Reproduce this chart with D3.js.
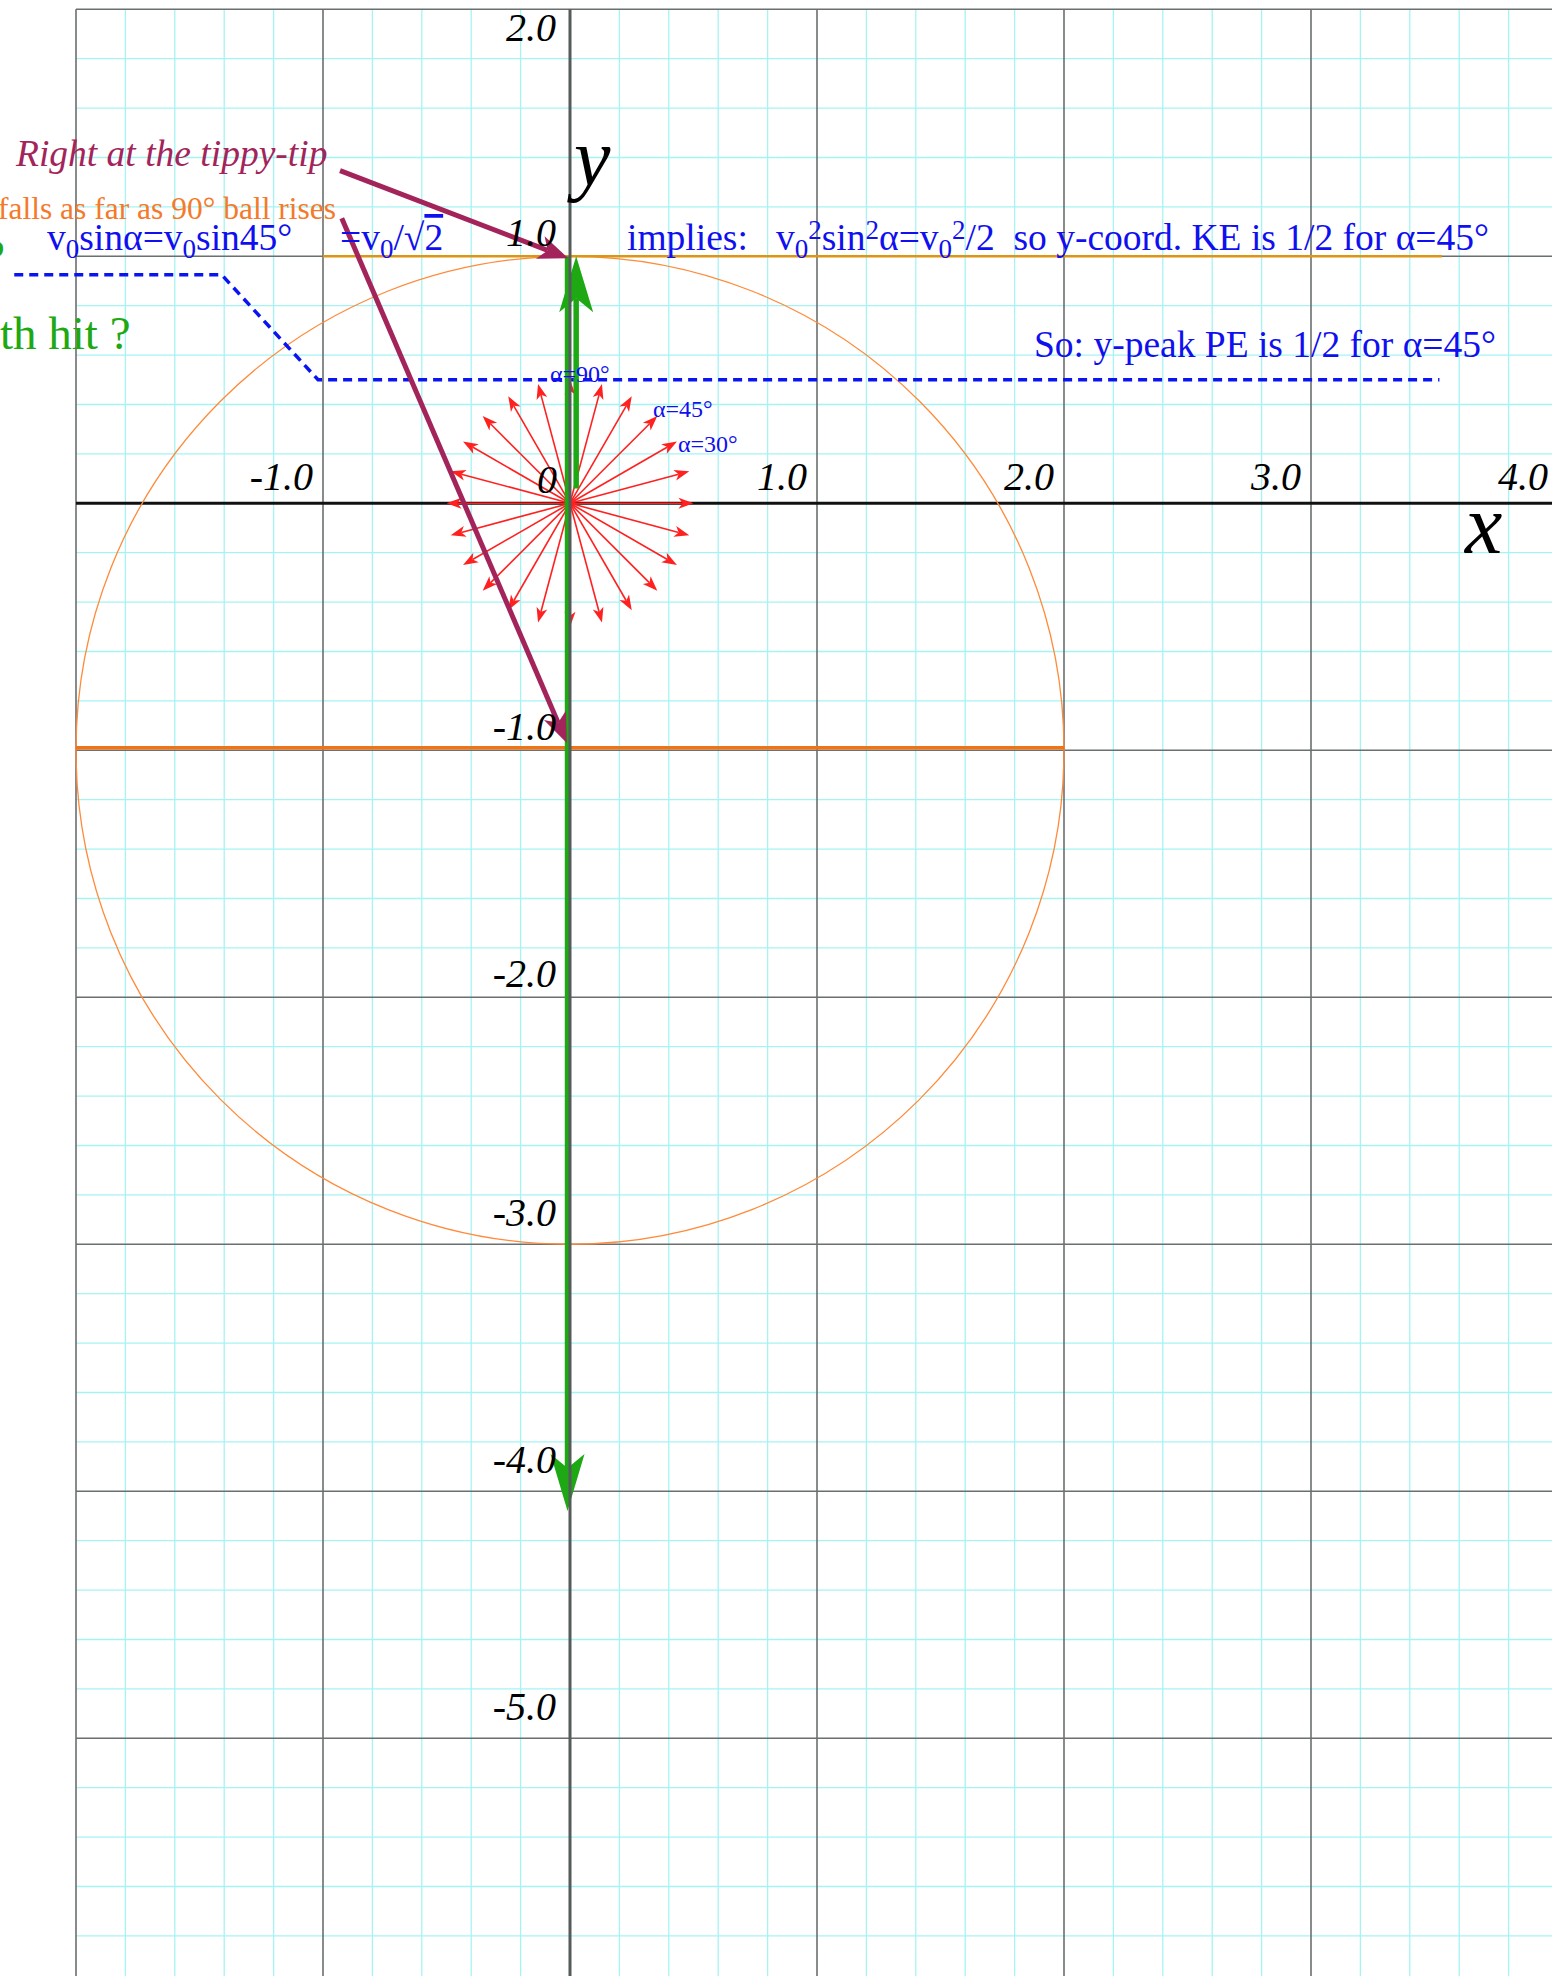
<!DOCTYPE html>
<html><head><meta charset="utf-8">
<script src="https://cdn.jsdelivr.net/npm/d3@7"></script>
<style>html,body{margin:0;padding:0;background:#fff;overflow:hidden} svg{display:block}</style>
</head><body><svg id="c" width="1552" height="1976"></svg>
<script>
// ---------------- data ----------------
const xTickValues = [-1, 1, 2, 3, 4];
const xTickLabels = ["-1.0", "1.0", "2.0", "3.0", "4.0"];
const yTickValues = [2, 1, -1, -2, -3, -4, -5];
const yTickLabels = ["2.0", "1.0", "-1.0", "-2.0", "-3.0", "-4.0", "-5.0"];
const fanAngles = [0, 15, 30, 45, 60, 75, 90, 105, 120, 135, 150, 165, 180, 195, 210, 225, 240, 255, 270, 285, 300, 315, 330, 345];
const fanLength = 0.5;
const circleCenter = [0, -1];
const circleRadius = 2;
const keLine = [[-1, 1], [3.53, 1]];
const dropLine = [[-2, -0.99], [2, -0.99]];
const peakPath = [[-2.25, 0.925], [-1.41, 0.925], [-1.02, 0.5], [3.52, 0.5]];
const riseArrow = [[0.025, 0.06], [0.025, 1.0]];
const fallArrow = [[-0.01, 1.0], [-0.01, -4.08]];
const tipArrow = [[-0.931, 1.347], [-0.007, 0.992]];
const dropArrow = [[-0.924, 1.154], [-0.013, -0.97]];
const angleLabelNames = ["α=90°", "α=45°", "α=30°"];
const angleLabelAt = [[-0.081, 0.491], [0.336, 0.349], [0.437, 0.208]];

// ---------------- setup ----------------
const svg = d3.select("#c");
const W = 1552, H = 1976;
const x = d3.scaleLinear().domain([-2, 4]).range([76, 76 + 6 * 247]);
const y = d3.scaleLinear().domain([-6, 2]).range([503.3 + 6 * 247, 503.3 - 2 * 247]);
const SERIF = "'Liberation Serif','Times New Roman',Times,serif";
const BLUE = "#0f0fef", MAROON = "#a3245a", GREEN = "#1ea814", RED = "#ff2020", ORANGE = "#f47a2a";

const g = svg.append("g");

// minor grid
const minorX = d3.range(-2, 4.01, 0.2).filter(v => Math.abs(v - Math.round(v)) > 1e-6);
const minorY = d3.range(-6, 2.01, 0.2).filter(v => Math.abs(v - Math.round(v)) > 1e-6);
g.append("g").selectAll("line").data(minorX).join("line")
  .attr("x1", d => x(d)).attr("x2", d => x(d)).attr("y1", y(2)).attr("y2", H)
  .attr("stroke", "#a6f3f3").attr("stroke-width", 1.3);
g.append("g").selectAll("line").data(minorY).join("line")
  .attr("y1", d => y(d)).attr("y2", d => y(d)).attr("x1", x(-2)).attr("x2", W)
  .attr("stroke", "#a6f3f3").attr("stroke-width", 1.3);
// major grid
g.append("g").selectAll("line").data(d3.range(-2, 5).filter(v => v !== 0)).join("line")
  .attr("x1", d => x(d)).attr("x2", d => x(d)).attr("y1", y(2)).attr("y2", H)
  .attr("stroke", "#6a6f6f").attr("stroke-width", 1.6);
g.append("g").selectAll("line").data(d3.range(-6, 3).filter(v => v !== 0)).join("line")
  .attr("y1", d => y(d)).attr("y2", d => y(d)).attr("x1", x(-2)).attr("x2", W)
  .attr("stroke", "#6a6f6f").attr("stroke-width", 1.6);
// x axis
g.append("line").attr("x1", x(-2)).attr("x2", W).attr("y1", y(0)).attr("y2", y(0))
  .attr("stroke", "#111").attr("stroke-width", 3);

// circle & orange lines
g.append("circle").attr("cx", x(circleCenter[0])).attr("cy", y(circleCenter[1]))
  .attr("r", x(circleRadius) - x(0)).attr("fill", "none").attr("stroke", "#ff8a3a").attr("stroke-width", 1.3);
const line = d3.line().x(d => x(d[0])).y(d => y(d[1]));
g.append("path").attr("d", line(keLine)).attr("stroke", "#dc9614").attr("stroke-width", 2.5).attr("fill", "none");
g.append("path").attr("d", line(dropLine)).attr("stroke", "#f07416").attr("stroke-width", 3.5).attr("fill", "none");
// dashed peak line
g.append("path").attr("d", line(peakPath)).attr("stroke", "#0a14f0").attr("stroke-width", 3.5)
  .attr("stroke-dasharray", "9,6").attr("fill", "none");

// arrow helper
function arrow(p, color, width, hl, hw, notch) {
  const x1 = x(p[0][0]), y1 = y(p[0][1]), x2 = x(p[1][0]), y2 = y(p[1][1]);
  const ang = Math.atan2(y2 - y1, x2 - x1);
  const len = Math.hypot(x2 - x1, y2 - y1);
  const back = hl - notch;
  const ex = x1 + (x2 - x1) * (len - back) / len, ey = y1 + (y2 - y1) * (len - back) / len;
  g.append("line").attr("x1", x1).attr("y1", y1).attr("x2", ex).attr("y2", ey)
    .attr("stroke", color).attr("stroke-width", width);
  g.append("path").attr("d", `M0,0 L${-hl},${-hw / 2} L${-hl + notch},0 L${-hl},${hw / 2} Z`)
    .attr("fill", color).attr("transform", `translate(${x2},${y2}) rotate(${ang * 180 / Math.PI})`);
}

// red fan
fanAngles.forEach(a => {
  const r = a * Math.PI / 180;
  arrow([[0, 0], [fanLength * Math.cos(r), fanLength * Math.sin(r)]], RED, 1.6, 15, 11, 4);
});

// green arrows
arrow(riseArrow, GREEN, 5.5, 56, 34, 14);
arrow(fallArrow, GREEN, 5.5, 57, 34, 14);

// y axis on top
g.append("line").attr("x1", x(0)).attr("x2", x(0)).attr("y1", y(2)).attr("y2", H)
  .attr("stroke", "#555b5b").attr("stroke-width", 3);

// maroon arrows
arrow(tipArrow, MAROON, 5, 30, 24, 8);
arrow(dropArrow, MAROON, 5, 30, 24, 8);

// ---------------- text ----------------
const T = svg.append("g").attr("font-family", SERIF);
// tick labels
T.selectAll(".xt").data(xTickValues).join("text")
  .attr("x", d => x(d) - 10).attr("y", y(0) - 13).attr("text-anchor", "end")
  .attr("font-size", 40).attr("font-style", "italic").attr("fill", "#000")
  .text((d, i) => xTickLabels[i]);
T.append("text").attr("x", x(0) - 13).attr("y", y(0) - 10).attr("text-anchor", "end")
  .attr("font-size", 40).attr("font-style", "italic").text("0");
T.selectAll(".yt").data(yTickValues).join("text")
  .attr("x", x(0) - 14).attr("y", d => d === 2 ? y(d) + 32 : y(d) - (d < -2 ? 18 : 10)).attr("text-anchor", "end")
  .attr("font-size", 40).attr("font-style", "italic").attr("fill", "#000")
  .text((d, i) => yTickLabels[i]);
// axis names
T.append("text").attr("x", x(0) + 4).attr("y", 185).attr("font-size", 82).attr("font-style", "italic").text("y");
T.append("text").attr("x", 1465).attr("y", 553).attr("font-size", 84).attr("font-style", "italic").text("x");

// rich text helper: segments with sub/sup
function rich(px, py, size, color, segs, opts = {}) {
  const t = T.append("text").attr("x", px).attr("y", py).attr("font-size", size).attr("fill", color)
    .style("white-space", "pre");
  if (opts.italic) t.attr("font-style", "italic");
  if (opts.anchor) t.attr("text-anchor", opts.anchor);
  let shift = 0;
  segs.forEach(s => {
    const seg = typeof s === "string" ? { t: s } : s;
    const target = seg.sub ? size * 0.2 : seg.sup ? -size * 0.3 : 0;
    const ts = t.append("tspan").attr("dy", target - shift).text(seg.t);
    if (seg.sub || seg.sup) ts.attr("font-size", size * 0.72);
    if (seg.over) ts.style("text-decoration", "overline");
    shift = target;
  });
  return t;
}

rich(16, 166, 37.5, MAROON, ["Right at the tippy-tip"], { italic: true });
rich(336, 219, 31.5, ORANGE, ["falls as far as 90° ball rises"], { anchor: "end" });
rich(5, 272, 46, GREEN, ["?"], { anchor: "end" });
rich(47, 250, 37.5, BLUE, ["v", { t: "0", sub: true }, "sinα=v", { t: "0", sub: true }, "sin45°"]);
rich(340, 250, 37.5, BLUE, ["=v", { t: "0", sub: true }, "/√", { t: "2", over: true }]);
rich(627, 250, 37.5, BLUE, ["implies:   v", { t: "0", sub: true }, { t: "2", sup: true }, "sin", { t: "2", sup: true },
  "α=v", { t: "0", sub: true }, { t: "2", sup: true }, "/2  so y-coord. KE is 1/2 for α=45°"]);
rich(1034, 357, 37.5, BLUE, ["So: y-peak PE is 1/2 for α=45°"]);
rich(0, 349, 47, GREEN, ["th hit ?"]);
angleLabelNames.forEach((s, i) => {
  rich(x(angleLabelAt[i][0]), y(angleLabelAt[i][1]), 24, BLUE, [s]);
});
</script></body></html>
